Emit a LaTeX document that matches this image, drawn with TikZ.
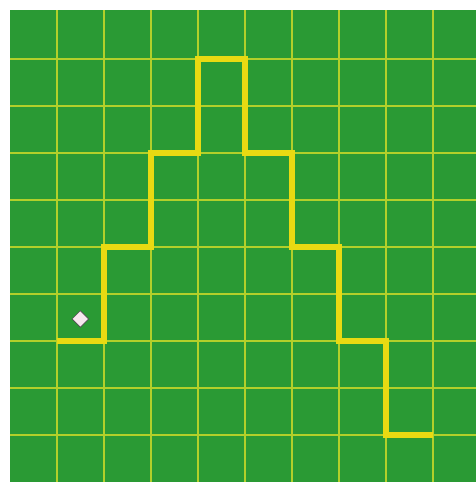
\documentclass[tikz,border=0pt]{standalone}
\usepackage{xcolor}
\usepackage{tikz}
\usetikzlibrary{shapes.geometric}

\definecolor{fieldgreen}{RGB}{42,154,52}
\definecolor{gridyellow}{RGB}{178,208,42}
\definecolor{routeyellow}{RGB}{232,218,18}
\definecolor{markerpink}{RGB}{246,232,238}

\begin{document}
\begin{tikzpicture}[
  gridline/.style={gridyellow, line width=1.2pt},
  route/.style={routeyellow, line width=3.6pt, line join=miter},
  marker/.style={diamond, draw=black!70, fill=markerpink, thin,
    minimum size=0.36cm, inner sep=0pt},
]
  \useasboundingbox (-0.21,0) rectangle (9.92,10.26);
  \fill[fieldgreen] (0,0) rectangle (9.92,10.05);

  \foreach \x in {1,...,9} \draw[gridline] (\x,0) -- (\x,10.05);
  \foreach \y in {1,...,9} \draw[gridline] (0,\y) -- (9.92,\y);

  \draw[route] (1,3) -- (2,3) -- (2,5) -- (3,5) -- (3,7) -- (4,7) -- (4,9)
    -- (5,9) -- (5,7) -- (6,7) -- (6,5) -- (7,5) -- (7,3) -- (8,3) -- (8,1) -- (9,1);

  \node[marker] (start) at (1.5,3.47) {};
\end{tikzpicture}
\end{document}
